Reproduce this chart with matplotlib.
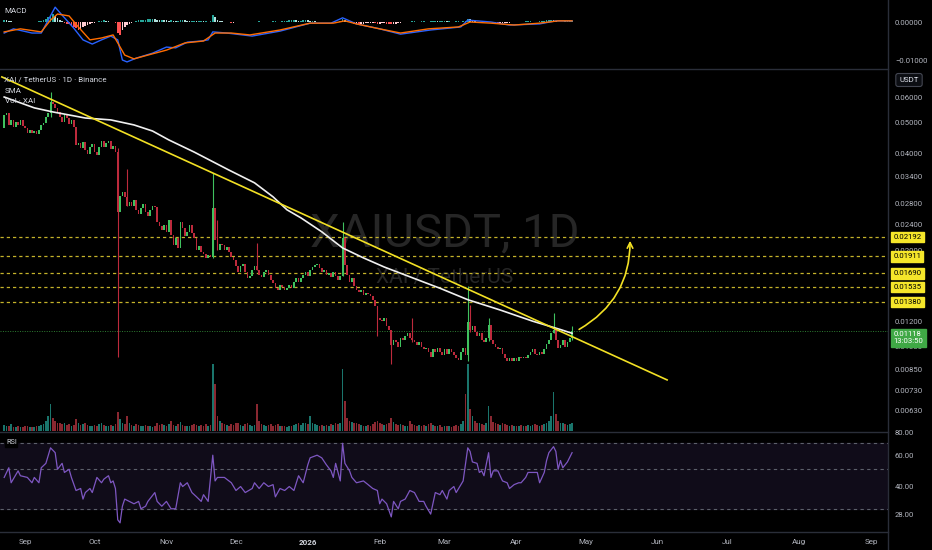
import numpy as np
import pandas as pd
import matplotlib
matplotlib.use("Agg")
import matplotlib.pyplot as plt
import matplotlib.transforms as mtrans
from matplotlib.lines import Line2D
from matplotlib.ticker import FixedLocator, FixedFormatter, NullLocator

plt.rcParams['font.family'] = ['Roboto', 'DejaVu Sans']

# ---- data ----
start = pd.Timestamp("2025-08-23")
first_open = 0.0480
closes = [
    0.0527, 0.0535, 0.0491, 0.0509, 0.0484, 0.0502, 0.0491, 0.0509, 0.0487, 0.0480,
    0.0463, 0.0473, 0.0463, 0.0470, 0.0460, 0.0473, 0.0491, 0.0498, 0.0519, 0.0535,
    0.0579, 0.0571, 0.0555, 0.0539, 0.0519, 0.0502, 0.0527, 0.0516, 0.0495, 0.0509,
    0.0484, 0.0425, 0.0431, 0.0416, 0.0434, 0.0410, 0.0399, 0.0419, 0.0428, 0.0404,
    0.0396, 0.0419, 0.0438, 0.0419, 0.0431, 0.0438, 0.0413, 0.0422, 0.0404, 0.0263,
    0.0295, 0.0304, 0.0293, 0.0274, 0.0283, 0.0274, 0.0287, 0.0267, 0.0259, 0.0270,
    0.0278, 0.0263, 0.0255, 0.0267, 0.0274, 0.0272, 0.0245, 0.0238, 0.0231, 0.0240,
    0.0228, 0.0248, 0.0223, 0.0208, 0.0218, 0.0203, 0.0245, 0.0234, 0.0221, 0.0228,
    0.0240, 0.0226, 0.0218, 0.0200, 0.0206, 0.0197, 0.0194, 0.0189, 0.0193, 0.0190,
    0.0270, 0.0215, 0.0200, 0.0209, 0.0208, 0.0200, 0.0205, 0.0197, 0.0190, 0.0186,
    0.0178, 0.0171, 0.0178, 0.0181, 0.0171, 0.0164, 0.0166, 0.0173, 0.0178, 0.0173,
    0.0167, 0.0165, 0.0171, 0.0173, 0.0167, 0.0161, 0.0158, 0.0152, 0.0150, 0.0156,
    0.0153, 0.0150, 0.0152, 0.0156, 0.0152, 0.0159, 0.0164, 0.0159, 0.0164, 0.0167,
    0.0171, 0.0166, 0.0173, 0.0177, 0.0180, 0.0181, 0.0176, 0.0171, 0.0173, 0.0167,
    0.0170, 0.0165, 0.0171, 0.0166, 0.0161, 0.0166, 0.0218, 0.0180, 0.0167, 0.0159,
    0.0164, 0.0155, 0.0150, 0.0148, 0.0150, 0.0145, 0.0147, 0.0146, 0.0144, 0.0140,
    0.0134, 0.0123, 0.0121, 0.0120, 0.0123, 0.0116, 0.0113, 0.0101, 0.0105, 0.0103,
    0.0100, 0.0106, 0.0105, 0.0108, 0.0110, 0.0106, 0.0105, 0.0103, 0.0101, 0.0103,
    0.0100, 0.0098, 0.0099, 0.0096, 0.0093, 0.0098, 0.0096, 0.0099, 0.0096, 0.0094,
    0.0098, 0.0095, 0.0098, 0.0096, 0.0094, 0.0092, 0.0091, 0.0096, 0.0099, 0.0094,
    0.0119, 0.0113, 0.0116, 0.0111, 0.0108, 0.0110, 0.0105, 0.0103, 0.0106, 0.0117,
    0.0105, 0.0102, 0.0100, 0.0098, 0.0099, 0.0095, 0.0092, 0.0090, 0.0092, 0.0090,
    0.0092, 0.0090, 0.0093, 0.0092, 0.0093, 0.0092, 0.0094, 0.0096, 0.0098, 0.0095,
    0.0094, 0.0096, 0.0095, 0.0098, 0.0102, 0.0105, 0.0110, 0.0113, 0.0105, 0.0099,
    0.0101, 0.0105, 0.0100, 0.0103, 0.0106, 0.01118,
]
volumes = [
    35, 30, 28, 40, 25, 22, 30, 26, 24, 28,
    30, 26, 25, 22, 28, 30, 35, 40, 60, 90,
    160, 80, 60, 45, 50, 40, 45, 35, 40, 30,
    35, 70, 45, 35, 40, 45, 35, 30, 30, 35,
    30, 40, 45, 35, 30, 28, 35, 30, 40, 110,
    70, 45, 40, 90, 45, 35, 30, 40, 35, 30,
    28, 35, 30, 28, 25, 30, 45, 35, 40, 35,
    30, 40, 60, 35, 30, 40, 55, 35, 30, 28,
    30, 35, 40, 35, 30, 35, 30, 40, 30, 35,
    400, 280, 90, 60, 45, 40, 35, 30, 40, 35,
    45, 50, 35, 30, 40, 45, 35, 30, 35, 160,
    60, 40, 35, 30, 35, 40, 30, 35, 40, 30,
    28, 30, 25, 30, 28, 35, 40, 45, 35, 50,
    45, 40, 90, 50, 40, 35, 30, 35, 30, 35,
    30, 40, 35, 45, 40, 50, 370, 180, 80, 60,
    55, 50, 45, 40, 35, 30, 30, 35, 30, 40,
    55, 60, 45, 40, 35, 40, 45, 80, 55, 40,
    35, 40, 35, 30, 30, 60, 40, 35, 30, 35,
    30, 35, 30, 40, 45, 35, 30, 30, 35, 25,
    30, 28, 30, 25, 30, 35, 30, 40, 60, 220,
    400, 130, 90, 60, 50, 45, 40, 35, 45, 150,
    90, 55, 45, 40, 35, 45, 40, 35, 30, 35,
    30, 28, 30, 35, 30, 28, 35, 30, 35, 40,
    35, 30, 35, 40, 50, 60, 90, 230, 100, 60,
    45, 50, 40, 35, 40, 45,
]
# MACD histogram, units of 1e-4
macd_hist = [
    5, 4, 3, 2, 1, -1, -1, 0, -1, 1, 1, -1, -1, 0, 1, 2, 3, 5,
    8, 12, 18, 22, 16, 10, 6, 3, -2, -4, -6, -8,
    -12, -16, -20, -18, -14, -10, -8, -5, -3, -2, -1,
    2, 3, 4, 3, 2, 1, -1, -2, -28, -34, -22, -14, -8, -5, -2, 1,
    3, 4, 5, 6, 6, 7, 8, 8, 7, 6, 5, 6, 5, 4,
    3, 4, 3, 2, 3, 4, 5, 4, 3, 2, 3, 3, 2, 2, 3, 2, 2, 1, 2,
    18, 12, 6, 3,
    2, 1, 0, -1, -2, -2, -1, -1, 0, 1, 1, 0, -1, -1, 0, 1, 2, 1, 1, 0,
    0, 1, 2, 2, 1, 1, 2, 3, 3, 4, 5, 5, 4, 3, 3, 4, 5, 4,
    3, 3, 2, 1, 1, 0, 0, 1, 1, 0, -1, 0, 1, 2,
    9, 6, 2, -1,
    -3, -4, -4, -5, -4, -4, -3, -3, -2, -2, -3, -4, -4, -3, -3, -4, -5, -6, -5, -4, -3,
    -2, -1, 0, 1, 1, 2, 2, 1, 1, 2, 2, 1, 1, 2, 3, 3, 2, 2, 3, 3, 2, 2, 1, 1, 2, 2, 1, 2, 3,
    9, 7, 4, 2, 1, 0, -1, -1, -1, 1,
    -1, -2, -2, -3, -3, -3, -3, -2, -2, -1, -1, 0, 1, 1, 1, 2, 2, 2, 1, 1,
    1, 2, 2, 3, 4, 5, 6, 4, 2, 1, 1, 1, 2, 2, 2, 3,
]
# notable wicks: day index, high, low
wick_days = [20, 49, 53, 90, 92, 109, 146, 161, 167, 176, 200, 201, 209, 237, 245]
wick_highs = [0.0624, 0.0417, 0.0359, 0.0347, 0.0248, 0.0210, 0.0245, 0.0134, 0.0113, 0.0123, 0.0155, 0.0135, 0.0123, 0.0127, 0.0116]
wick_lows = [0.0519, 0.0093, 0.0274, 0.0189, 0.0200, 0.0173, 0.0166, 0.0108, 0.0088, 0.0103, 0.0090, 0.0111, 0.0104, 0.0110, 0.0105]

sma_days = [0, 13, 21, 35, 46, 56, 64, 71, 82, 97, 108, 116, 122, 128, 137, 146, 155, 164, 176, 188, 200, 214, 228, 240, 245]
sma_vals = [0.0600, 0.0555, 0.0539, 0.0516, 0.0509, 0.0491, 0.0470, 0.0441, 0.0404, 0.0355, 0.0324, 0.0293,
            0.0267, 0.0252, 0.0228, 0.0203, 0.0189, 0.0177, 0.0164, 0.0152, 0.0140, 0.0130, 0.0120, 0.0113, 0.0110]

macd_days = [0, 4, 12, 16, 19, 22, 25, 30, 34, 38, 42, 46, 49, 51, 53, 57, 64, 70, 74, 79, 85, 88, 90,
             96, 107, 119, 132, 141, 146, 152, 162, 171, 184, 197, 200, 210, 218, 231, 238, 245]
macd_vals = [-0.0029, -0.0018, -0.0029, -0.0029, 0.0005, 0.0039, 0.0018, -0.0016, -0.0047, -0.0058,
             -0.0047, -0.0037, -0.0047, -0.0100, -0.0105, -0.0095, -0.0082, -0.0066, -0.0068, -0.0053,
             -0.0050, -0.0047, -0.0026, -0.0029, -0.0037, -0.0024, -0.0003, -0.0003, 0.0011, -0.0005,
             -0.0018, -0.0032, -0.0021, -0.0013, 0.0005, 0.0000, -0.0008, -0.0005, 0.0003, 0.0003]
sig_days = [0, 7, 16, 20, 23, 28, 32, 37, 42, 47, 49, 52, 56, 62, 70, 78, 86, 91, 98, 106, 119,
            132, 142, 147, 152, 162, 171, 183, 196, 201, 210, 220, 231, 239, 245]
sig_vals = [-0.0026, -0.0018, -0.0026, 0.0005, 0.0021, 0.0016, -0.0013, -0.0047, -0.0042, -0.0034,
            -0.0055, -0.0087, -0.0097, -0.0087, -0.0074, -0.0055, -0.0050, -0.0029, -0.0029, -0.0034,
            -0.0021, -0.0003, -0.0003, 0.0003, -0.0005, -0.0018, -0.0029, -0.0018, -0.0013, 0.0000,
            -0.0003, -0.0008, -0.0003, 0.0003, 0.0003]

rsi_days = [0, 2, 3, 6, 7, 10, 12, 13, 15, 16, 18, 20, 22, 23, 25, 26, 28, 29, 31, 33, 34, 35, 37, 38,
            40, 42, 43, 45, 46, 47, 48, 49, 50, 51, 52, 54, 56, 58, 59, 61, 62, 65, 66, 68, 70, 72, 74,
            76, 77, 79, 81, 83, 85, 86, 88, 90, 91, 92, 95, 98, 100, 102, 104, 107, 108, 110, 112, 114,
            116, 117, 119, 121, 123, 125, 127, 129, 131, 132, 135, 137, 139, 141, 142, 143, 145, 146,
            147, 149, 150, 152, 155, 157, 159, 161, 162, 163, 165, 167, 168, 170, 171, 173, 175, 177,
            179, 181, 182, 184, 186, 188, 189, 191, 192, 194, 195, 198, 200, 201, 202, 204, 205, 206,
            207, 209, 210, 211, 213, 215, 217, 218, 220, 222, 223, 225, 226, 228, 230, 231, 233, 234,
            235, 237, 238, 239, 240, 241, 243, 245]
rsi_vals = [45, 51, 42, 49, 46, 45, 42, 45, 42, 51, 54, 66, 62, 50, 54, 48, 50, 45, 38, 39, 34, 37, 39, 37,
            45, 42, 44, 46, 42, 43, 39, 26, 25, 31, 34, 33, 32, 33, 30, 31, 33, 37, 33, 31, 33, 30, 30,
            42, 40, 42, 37, 35, 33, 36, 33, 60, 43, 45, 45, 42, 38, 40, 37, 39, 42, 39, 42, 40,
            41, 35, 39, 38, 40, 38, 46, 42, 53, 58, 60, 58, 53, 49, 45, 54, 43, 70,
            54, 49, 45, 42, 43, 41, 39, 38, 32, 34, 32, 27, 33, 30, 33, 34, 38, 37,
            33, 33, 31, 28, 37, 36, 38, 34, 38, 40, 37, 43, 66, 63, 55, 54, 48, 49,
            46, 62, 45, 49, 49, 43, 42, 39, 41, 42, 42, 45, 48, 48, 48, 42, 48, 56,
            62, 67, 63, 50, 56, 51, 55, 62]

levels = [0.02192, 0.01911, 0.01690, 0.01535, 0.01380]
last_price = 0.01118
countdown = "13:03:50"
trend_dates = ["2025-08-22", "2026-06-05"]
trend_prices = [0.0693, 0.00787]
arrow_dates = ["2026-04-27", "2026-05-20"]
arrow_prices = [0.0112, 0.0218]

price_ticks = [0.06, 0.05, 0.04, 0.034, 0.028, 0.024, 0.02, 0.012, 0.01, 0.0085, 0.0073, 0.0063]
macd_ticks = [0.0, -0.01]
rsi_ticks = [80, 60, 40, 28]
month_ticks = ["2025-09-01", "2025-10-01", "2025-11-01", "2025-12-01", "2026-01-01", "2026-02-01",
               "2026-03-01", "2026-04-01", "2026-05-01", "2026-06-01", "2026-07-01", "2026-08-01",
               "2026-09-01"]
month_labels = ["Sep", "Oct", "Nov", "Dec", "2026", "Feb", "Mar", "Apr", "May", "Jun", "Jul", "Aug", "Sep"]

# ---- derived ----
n = len(closes)
dates = start + pd.to_timedelta(np.arange(n), unit="D")
closes = np.array(closes)
opens = np.r_[first_open, closes[:-1]]
up = closes >= opens
day = lambda d: start + pd.to_timedelta(np.asarray(d), unit="D")

BG = "#000000"
GRID = "#2a2e39"
TXT = "#b2b5be"
UPC, DNC = "#3fc15e", "#bd2a3c"
YEL = "#f2e024"

W, H = 932, 550
fig = plt.figure(figsize=(W / 100, H / 100), dpi=100, facecolor=BG)
right = 888 / W


def box(top, bottom):
    return [0, 1 - bottom / H, right, (bottom - top) / H]


ax_m = fig.add_axes(box(0, 68))
ax = fig.add_axes(box(69, 431), sharex=ax_m)
ax_r = fig.add_axes(box(432, 531), sharex=ax_m)
vax = ax.twinx()
ax.set_zorder(vax.get_zorder() + 1)
ax.patch.set_visible(False)

for a in (ax_m, ax, ax_r, vax):
    a.set_facecolor(BG)
    for s in a.spines.values():
        s.set_visible(False)
    a.tick_params(colors=TXT, labelsize=5.6, length=0)

xl = pd.Timestamp("2025-09-01") - pd.Timedelta(days=10.8)
xr = pd.Timestamp("2025-09-01") + pd.Timedelta(days=372.3)
ax.set_xlim(xl, xr)

# ---- price panel ----
ax.set_yscale("log")
ax.set_ylim(0.005454, 0.07336)
lo = np.minimum(opens, closes)
hi = np.maximum(opens, closes)
hgt = np.maximum(hi - lo, lo * 0.006)
ax.bar(dates, hgt, bottom=lo, width=0.72, color=np.where(up, UPC, DNC), zorder=3)
wd = day(wick_days)
wcol = [UPC if up[i] else DNC for i in wick_days]
ax.vlines(wd, wick_lows, wick_highs, colors=wcol, lw=0.8, zorder=2)

for lv in levels:
    ax.axhline(lv, color="#c4b22a", lw=0.9, ls=(0, (2.6, 2.4)), zorder=1)
ax.axhline(last_price, color="#2e7d32", lw=0.7, ls=(0, (1, 1.5)), zorder=1)

ax.plot(day(sma_days), sma_vals, color="#f0f0f0", lw=1.2, zorder=4)
ax.plot(pd.to_datetime(trend_dates), trend_prices, color=YEL, lw=1.2, zorder=5)
ax.annotate("", xy=(pd.Timestamp(arrow_dates[1]), arrow_prices[1]),
            xytext=(pd.Timestamp(arrow_dates[0]), arrow_prices[0]),
            arrowprops=dict(arrowstyle="->", color=YEL, lw=1.2,
                            connectionstyle="arc3,rad=0.3", mutation_scale=10), zorder=5)

ax.yaxis.tick_right()
ax.yaxis.set_major_locator(FixedLocator(price_ticks))
ax.yaxis.set_major_formatter(FixedFormatter([f"{t:.5f}" for t in price_ticks]))
ax.yaxis.set_minor_locator(NullLocator())
ax.tick_params(axis="y", pad=5)
ax.tick_params(axis="x", labelbottom=False)

# volume
vax.bar(dates, volumes, width=0.72, color=np.where(up, "#1f8a80", "#a3303a"), alpha=0.85)
vax.set_ylim(0, max(volumes) / 0.186)
vax.set_yticks([])

# label boxes on the price scale
tr = mtrans.blended_transform_factory(ax.transAxes, ax.transData)
for lv in levels:
    ax.text(1.006, lv, f"{lv:.5f}", transform=tr, va="center", ha="left", fontsize=5.6,
            color="#000000", clip_on=False, zorder=10,
            bbox=dict(boxstyle="square,pad=0.28", fc="#f5e62a", ec="#f5e62a"))
ax.text(1.006, last_price, f"{last_price:.5f}\n{countdown}", transform=tr, va="top", ha="left",
        fontsize=5.6, color="#ffffff", clip_on=False, zorder=10, linespacing=1.25,
        bbox=dict(boxstyle="square,pad=0.3", fc="#3fa845", ec="#3fa845"))

# watermark
fig.text(445 / W, 1 - 233 / H, "XAIUSDT, 1D", color="#262626", fontsize=34, ha="center", va="center",
         zorder=0)
fig.text(445 / W, 1 - 277 / H, "XAI / TetherUS", color="#262626", fontsize=15, ha="center",
         va="center", zorder=0)

# ---- MACD panel ----
ax_m.set_ylim(-0.0121, 0.00579)
hv = np.array(macd_hist) * 1e-4
prev = np.r_[hv[0], hv[:-1]]
hcol = np.where(hv >= 0, np.where(hv >= prev, "#26a69a", "#b2dfdb"),
                np.where(hv < prev, "#ff5252", "#ffcdd2"))
ax_m.bar(dates, hv, width=0.72, color=hcol)
ax_m.plot(day(macd_days), macd_vals, color="#2962ff", lw=1.0)
ax_m.plot(day(sig_days), sig_vals, color="#ff6d00", lw=1.0)
ax_m.yaxis.tick_right()
ax_m.set_yticks(macd_ticks)
ax_m.set_yticklabels(["0.00000", "\u22120.01000"])
ax_m.tick_params(axis="y", pad=5)
ax_m.tick_params(axis="x", labelbottom=False)

# ---- RSI panel ----
ax_r.set_yscale("log")
ax_r.set_ylim(22.5, 81)
ax_r.axhspan(30, 70, color="#100c19", zorder=0)
for lv in (70, 50, 30):
    ax_r.axhline(lv, color="#5d606b", lw=0.8, ls=(0, (3, 3)), zorder=1)
ax_r.plot(day(rsi_days), rsi_vals, color="#7e57c2", lw=0.9, zorder=2)
ax_r.yaxis.tick_right()
ax_r.yaxis.set_major_locator(FixedLocator(rsi_ticks))
ax_r.yaxis.set_major_formatter(FixedFormatter([f"{t:.2f}" for t in rsi_ticks]))
ax_r.yaxis.set_minor_locator(NullLocator())
ax_r.tick_params(axis="y", pad=5)
ax_r.set_xticks(pd.to_datetime(month_ticks))
ax_r.set_xticklabels(month_labels)
ax_r.tick_params(axis="x", pad=6, labelsize=5.8)
for lab in ax_r.get_xticklabels():
    if lab.get_text() == "2026":
        lab.set_color("#d1d4dc")
        lab.set_fontweight("bold")

# ---- separators, legends ----
for yy in (68.5, 431.5, 531.5):
    fig.add_artist(Line2D([0, right], [1 - yy / H] * 2, color=GRID, lw=1))
fig.add_artist(Line2D([right, right], [0, 1], color=GRID, lw=1))

lc = "#d1d4dc"
fig.text(4 / W, 1 - 11 / H, "MACD", color=lc, fontsize=5.8, va="center")
fig.text(4 / W, 1 - 80 / H, "XAI / TetherUS \u00b7 1D \u00b7 Binance", color=lc, fontsize=5.8, va="center")
fig.text(5 / W, 1 - 91 / H, "SMA", color=lc, fontsize=5.8, va="center")
fig.text(5 / W, 1 - 101 / H, "Vol \u00b7 XAI", color=lc, fontsize=5.8, va="center")
fig.text(6 / W, 1 - 443 / H, "RSI", color=lc, fontsize=5.2, va="center",
         bbox=dict(boxstyle="square,pad=0.1", fc=BG, ec=BG))
fig.text(909 / W, 1 - 80 / H, "USDT", color="#e0e3eb", fontsize=5.6, ha="center", va="center",
         bbox=dict(boxstyle="round,pad=0.45,rounding_size=0.3", fc="#0c0e13", ec="#434651", lw=0.8))

fig.savefig("out.png", dpi=100, facecolor=BG)
